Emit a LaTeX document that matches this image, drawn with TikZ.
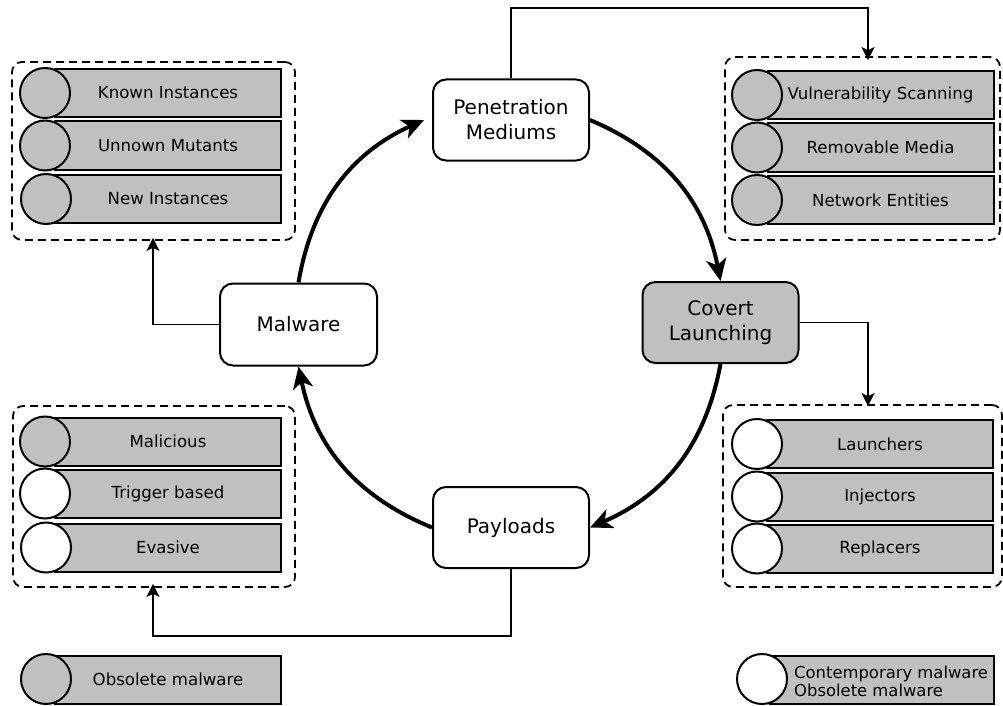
\documentclass[tikz,border=0pt]{standalone}
\usepackage{fontspec}
\setmainfont{DejaVu Sans}
\usetikzlibrary{arrows.meta}
\definecolor{boxgray}{RGB}{192,192,192}
\newcommand{\itemfont}{\fontsize{16.6}{18}\selectfont}
\newcommand{\mainfont}{\fontsize{20}{25}\selectfont}
\begin{document}
\begin{tikzpicture}[x=1pt,y=-1pt,
  stage/.style={draw, rounded corners=13pt, line width=2pt, minimum width=156pt,
    minimum height=81pt, inner sep=0pt, align=center, font=\mainfont},
  group/.style={draw, dashed, dash pattern=on 8pt off 5pt, rounded corners=10pt, line width=1.8pt},
  bar/.style={draw, fill=boxgray, line width=2pt, minimum width=226pt,
    minimum height=48pt, inner sep=0pt, font=\itemfont},
  dotg/.style={circle, draw, line width=2pt, fill=boxgray, minimum size=50pt, inner sep=0pt},
  dotw/.style={dotg, fill=white},
  cyc/.style={line width=4pt, -{Stealth[length=22pt,width=20pt,inset=6pt]}},
  conn/.style={line width=1.8pt, -{Stealth[length=13pt,width=13pt,inset=3pt]}}]
\useasboundingbox (0,0) rectangle (1003,706);

% dashed groups
\node[group, minimum width=283pt, minimum height=178pt] (tl) at (153.5,151) {};
\node[group, minimum width=275pt, minimum height=183pt] (tr) at (862.5,148.5) {};
\node[group, minimum width=282pt, minimum height=181pt] (bl) at (154,496.5) {};
\node[group, minimum width=279pt, minimum height=182pt] (br) at (862.5,496) {};

% group items: top left
\node[bar] (tl1) at (168,93) {Known Instances};
\node[dotg] (tl1c) at (45,93) {};
\node[bar] (tl2) at (168,145.5) {Unnown Mutants};
\node[dotg] (tl2c) at (45,145.5) {};
\node[bar] (tl3) at (168,199) {New Instances};
\node[dotg] (tl3c) at (46,199) {};

% top right
\node[bar] (tr1) at (880.5,95) {Vulnerability Scanning};
\node[dotg] (tr1c) at (757,95) {};
\node[bar] (tr2) at (880.5,147.5) {Removable Media};
\node[dotg] (tr2c) at (757,147.5) {};
\node[bar] (tr3) at (880.5,200) {Network Entities};
\node[dotg] (tr3c) at (757,200) {};

% bottom left
\node[bar] (bl1) at (168,441.5) {Malicious};
\node[dotg] (bl1c) at (45,441.5) {};
\node[bar] (bl2) at (168,493.5) {Trigger based};
\node[dotw] (bl2c) at (45,493.5) {};
\node[bar] (bl3) at (168,547.5) {Evasive};
\node[dotw] (bl3c) at (46,547.5) {};

% bottom right
\node[bar] (br1) at (880,444) {Launchers};
\node[dotw] (br1c) at (757,444) {};
\node[bar] (br2) at (880,496.5) {Injectors};
\node[dotw] (br2c) at (757,496.5) {};
\node[bar] (br3) at (880,548.5) {Replacers};
\node[dotw] (br3c) at (757,548.5) {};

% legend
\node[bar] (lg1) at (168,679.5) {Obsolete malware};
\node[dotg] (lg1c) at (46,679) {};
\node[bar, minimum width=224pt] (lg2) at (882,679.5) {};
\node[anchor=west, align=left, inner sep=0pt, font=\fontsize{16.4}{18}\selectfont] (lg2t) at (794,681) {Contemporary malware\\Obsolete malware};
\node[dotw] (lg2c) at (762,679) {};

% stages
\node[stage] (pen) at (511,120) {Penetration\\Mediums};
\node[stage, fill=boxgray] (cov) at (720.5,322.5) {Covert\\Launching};
\node[stage, minimum width=157pt, minimum height=82pt] (mal) at (298.5,324.5) {Malware};
\node[stage] (pay) at (511,527.5) {Payloads};

% cycle
\draw[cyc] (mal.north) to[bend left=28] ([xshift=-8pt]pen.west);
\draw[cyc] (pen.east) to[bend left=28] (cov.north);
\draw[cyc] (cov.south) to[bend left=28] (pay.east);
\draw[cyc] (pay.west) to[bend left=28] (mal.south);

% links to the groups
\coordinate (k1) at (868,8);
\coordinate (k2) at (868,322.5);
\coordinate (k3) at (153,324.5);
\coordinate (k4) at (153,636);
\draw[conn] (pen.north) |- (k1) -- ([yshift=-4pt]k1 |- tr.north);
\draw[conn] (cov.east) -- (k2) -- ([yshift=-2pt]k2 |- br.north);
\draw[conn] (mal.west) -- (k3) -- ([yshift=3pt]k3 |- tl.south);
\draw[conn] (pay.south) |- (k4) -- ([yshift=4pt]k4 |- bl.south);
\end{tikzpicture}
\end{document}
